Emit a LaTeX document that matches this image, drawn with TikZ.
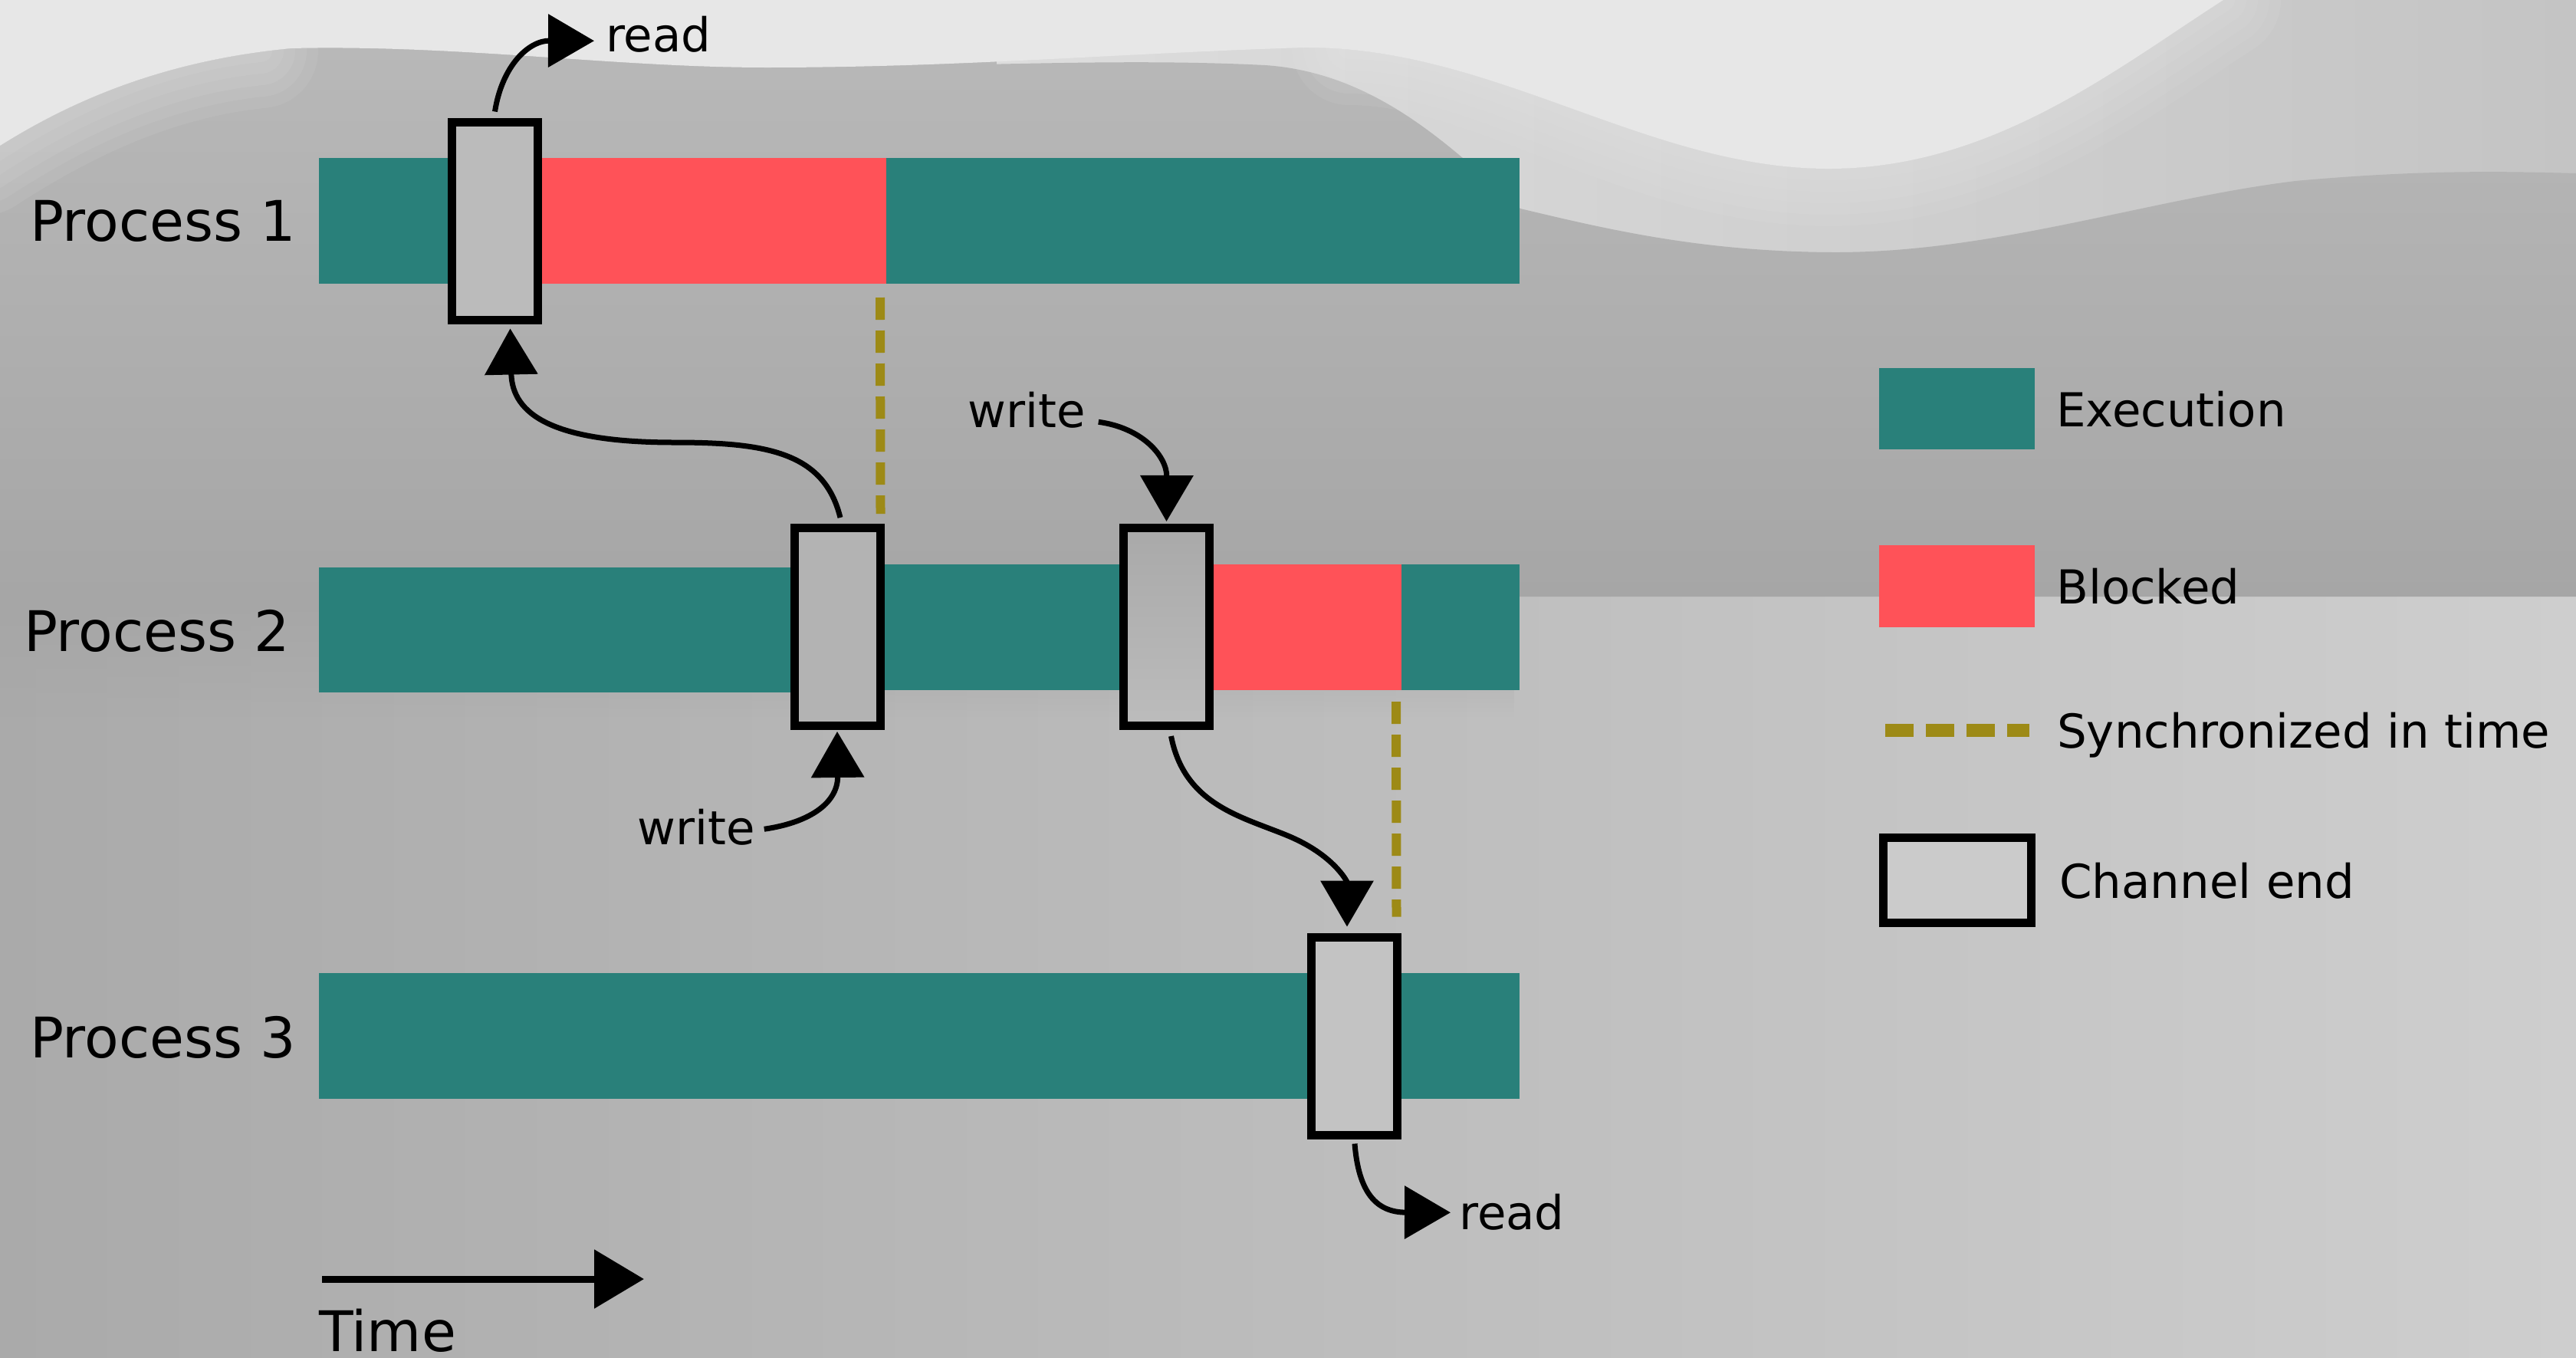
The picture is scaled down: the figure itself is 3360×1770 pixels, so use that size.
\documentclass[tikz,border=0pt]{standalone}
\usepackage{fontspec}
\setmainfont{DejaVu Sans}
\usetikzlibrary{arrows.meta,fadings}
\definecolor{execc}{RGB}{41,128,122}
\definecolor{blockc}{RGB}{255,82,88}
\definecolor{syncc}{RGB}{157,138,22}
\definecolor{bgbright}{RGB}{231,231,231}
\definecolor{bgL}{RGB}{170,170,170}
\definecolor{bgM}{RGB}{194,194,194}
\definecolor{bgR}{RGB}{206,206,206}
\definecolor{ltL}{RGB}{221,221,221}
\definecolor{ltM}{RGB}{217,217,217}
\definecolor{ltR}{RGB}{196,196,196}
\definecolor{bandT}{RGB}{184,184,184}
\definecolor{bandB}{RGB}{166,166,166}
\definecolor{fillA}{RGB}{187,187,187}
\definecolor{fillB}{RGB}{179,179,179}
\definecolor{fillCt}{RGB}{169,169,169}
\definecolor{fillCb}{RGB}{188,188,188}
\definecolor{fillD}{RGB}{195,195,195}
\definecolor{fillE}{RGB}{203,203,203}
\tikzfading[name=fadedown, top color=transparent!0, bottom color=transparent!100]
\newcommand\bigtxt{\fontsize{73}{80}\selectfont}
\newcommand\smtxt{\fontsize{61}{68}\selectfont}
\begin{document}
\begin{tikzpicture}[x=1pt,y=-1pt,
  seg/.style={inner sep=0pt, outer sep=0pt, anchor=north west, draw=none},
  exec/.style={seg, fill=execc},
  blk/.style={seg, fill=blockc},
  chan/.style={draw=black, line width=11pt, inner sep=0pt, minimum width=112pt, minimum height=258pt},
  conn/.style={draw=black, line width=7pt, -{Triangle[length=60pt,width=68pt]}},
  sync/.style={draw=syncc, line width=12pt, dash pattern=on 29pt off 14pt},
  lbl/.style={anchor=base west, inner sep=0pt, font=\smtxt},
  plbl/.style={anchor=base west, inner sep=0pt, font=\bigtxt},
  softedge/.style={draw=bgbright, opacity=0.1, line cap=round}]
\useasboundingbox (0,0) rectangle (3360,1770);
% ---------- background ----------
\shade[left color=bgL, middle color=bgM, right color=bgR] (0,0) rectangle (3360,1770);
\shade[left color=ltL, middle color=ltM, right color=ltR] (1300,0) rectangle (3360,420);
\shade[top color=bandT, bottom color=bandB]
  (0,190) .. controls (80,140) and (200,80) .. (380,63)
  .. controls (600,58) and (800,88) .. (1000,88)
  .. controls (1250,88) and (1450,75) .. (1650,85)
  .. controls (1800,95) and (1900,200) .. (1983,272)
  .. controls (2100,300) and (2220,328) .. (2390,329)
  .. controls (2600,330) and (2800,260) .. (2994,236)
  .. controls (3150,222) and (3250,223) .. (3360,226)
  -- (3360,778) -- (0,778) -- cycle;
\fill[bandB, path fading=fadedown] (0,778) rectangle (1985,935);
\fill[bgbright]
  (0,0) -- (0,190) .. controls (80,140) and (200,80) .. (380,63)
  .. controls (600,58) and (800,88) .. (1000,88)
  .. controls (1250,88) and (1450,70) .. (1700,62)
  .. controls (1950,60) and (2150,222) .. (2390,220)
  .. controls (2600,218) and (2760,90) .. (2900,0) -- cycle;
\foreach \w in {30,60,90,120,150}{
  \draw[softedge, line width=\w pt]
    (1760,62) .. controls (1950,62) and (2150,222) .. (2390,220)
    .. controls (2600,218) and (2760,90) .. (2900,0);
  \draw[softedge, line width=\w pt]
    (-20,205) .. controls (80,140) and (200,80) .. (340,66);
}
% ---------- process bars ----------
\node[exec, minimum width=1566pt, minimum height=164pt] (p1) at (416,206) {};
\node[blk, minimum width=449pt, minimum height=164pt] (p1b) at (707,206) {};
\node[chan, fill=fillA] (b1) at (645.5,288) {};
\node[exec, minimum width=619pt, minimum height=163pt] (p2a) at (416,740) {};
\node[exec, minimum width=315pt, minimum height=164pt] (p2b) at (1150,736) {};
\node[blk, minimum width=245pt, minimum height=164pt] (p2c) at (1583,736) {};
\node[exec, minimum width=154pt, minimum height=164pt] (p2d) at (1828,736) {};
\node[chan, fill=fillB] (b2) at (1092,817.5) {};
\node[chan, top color=fillCt, bottom color=fillCb] (b3) at (1521.5,817.5) {};
\node[exec, minimum width=1566pt, minimum height=164pt] (p3) at (416,1269) {};
\node[chan, fill=fillD] (b4) at (1766,1351) {};
% ---------- labels ----------
\node[plbl] (l1) at (39,314) {Process 1};
\node[plbl] (l2) at (31,849) {Process 2};
\node[plbl] (l3) at (39,1379) {Process 3};
\node[lbl] (rd1) at (790,67) {read};
\node[lbl] (wr1) at (1262,557) {write};
\node[lbl] (wr2) at (831,1101) {write};
\node[lbl] (rd2) at (1903,1603) {read};
\node[plbl] (tm) at (416,1762) {Time};
% ---------- sync lines ----------
\draw[sync] ([xshift=-8pt,yshift=-18pt]p1b.south east) -- ([xshift=-5pt,yshift=13pt]b2.north east);
\draw[sync] ([xshift=-7pt,yshift=-15pt]p2c.south east) -- ([xshift=-6pt,yshift=21pt]b4.north east);
% ---------- connectors ----------
\draw[conn] ([yshift=8pt]b1.north) .. controls (655,85) and (690,53) .. ([xshift=-15pt,yshift=-9pt]rd1.west);
\draw[conn] ([xshift=4pt,yshift=8pt]b2.north) .. controls (1075,590) and (1000,577) .. (880,577)
  .. controls (720,577) and (668,540) .. ([xshift=20pt,yshift=-6pt]b1.south);
\draw[conn] ([xshift=17pt,yshift=-16pt]wr1.east) .. controls (1490,558) and (1522,595) .. ([yshift=3pt]b3.north);
\draw[conn] ([xshift=12pt,yshift=-3pt]wr2.east) .. controls (1060,1072) and (1093,1045) .. ([yshift=-2pt]b2.south);
\draw[conn] ([xshift=6pt,yshift=-8pt]b3.south) .. controls (1545,1050) and (1620,1065) .. (1680,1090)
  .. controls (1740,1115) and (1757,1150) .. ([xshift=-9pt,yshift=8pt]b4.north);
\draw[conn] ([xshift=1pt,yshift=-6pt]b4.south) .. controls (1772,1555) and (1795,1581) .. ([xshift=-11pt,yshift=-1pt]rd2.west);
% ---------- time arrow ----------
\coordinate (ts) at (420,1668);
\coordinate (te) at (840,1668);
\draw[line width=9pt, -{Triangle[length=65pt,width=75pt]}] (ts) -- (te);
% ---------- legend ----------
\node[exec, minimum width=203pt, minimum height=106pt] (lgE) at (2451,480) {};
\node[lbl] (lgEt) at (2682,556) {Execution};
\node[blk, minimum width=203pt, minimum height=107pt] (lgB) at (2451,711) {};
\node[lbl] (lgBt) at (2682,787) {Blocked};
\coordinate (lgS1) at (2459,952);
\coordinate (lgS2) at (2647,952);
\draw[sync, line width=17pt, dash pattern=on 37pt off 16pt] (lgS1) -- (lgS2);
\node[lbl] (lgSt) at (2683,975) {Synchronized in time};
\node[draw=black, line width=11pt, inner sep=0pt, minimum width=193pt, minimum height=111pt, fill=fillE] (lgC) at (2553,1148) {};
\node[lbl] (lgCt) at (2686,1171) {Channel end};
\end{tikzpicture}
\end{document}
